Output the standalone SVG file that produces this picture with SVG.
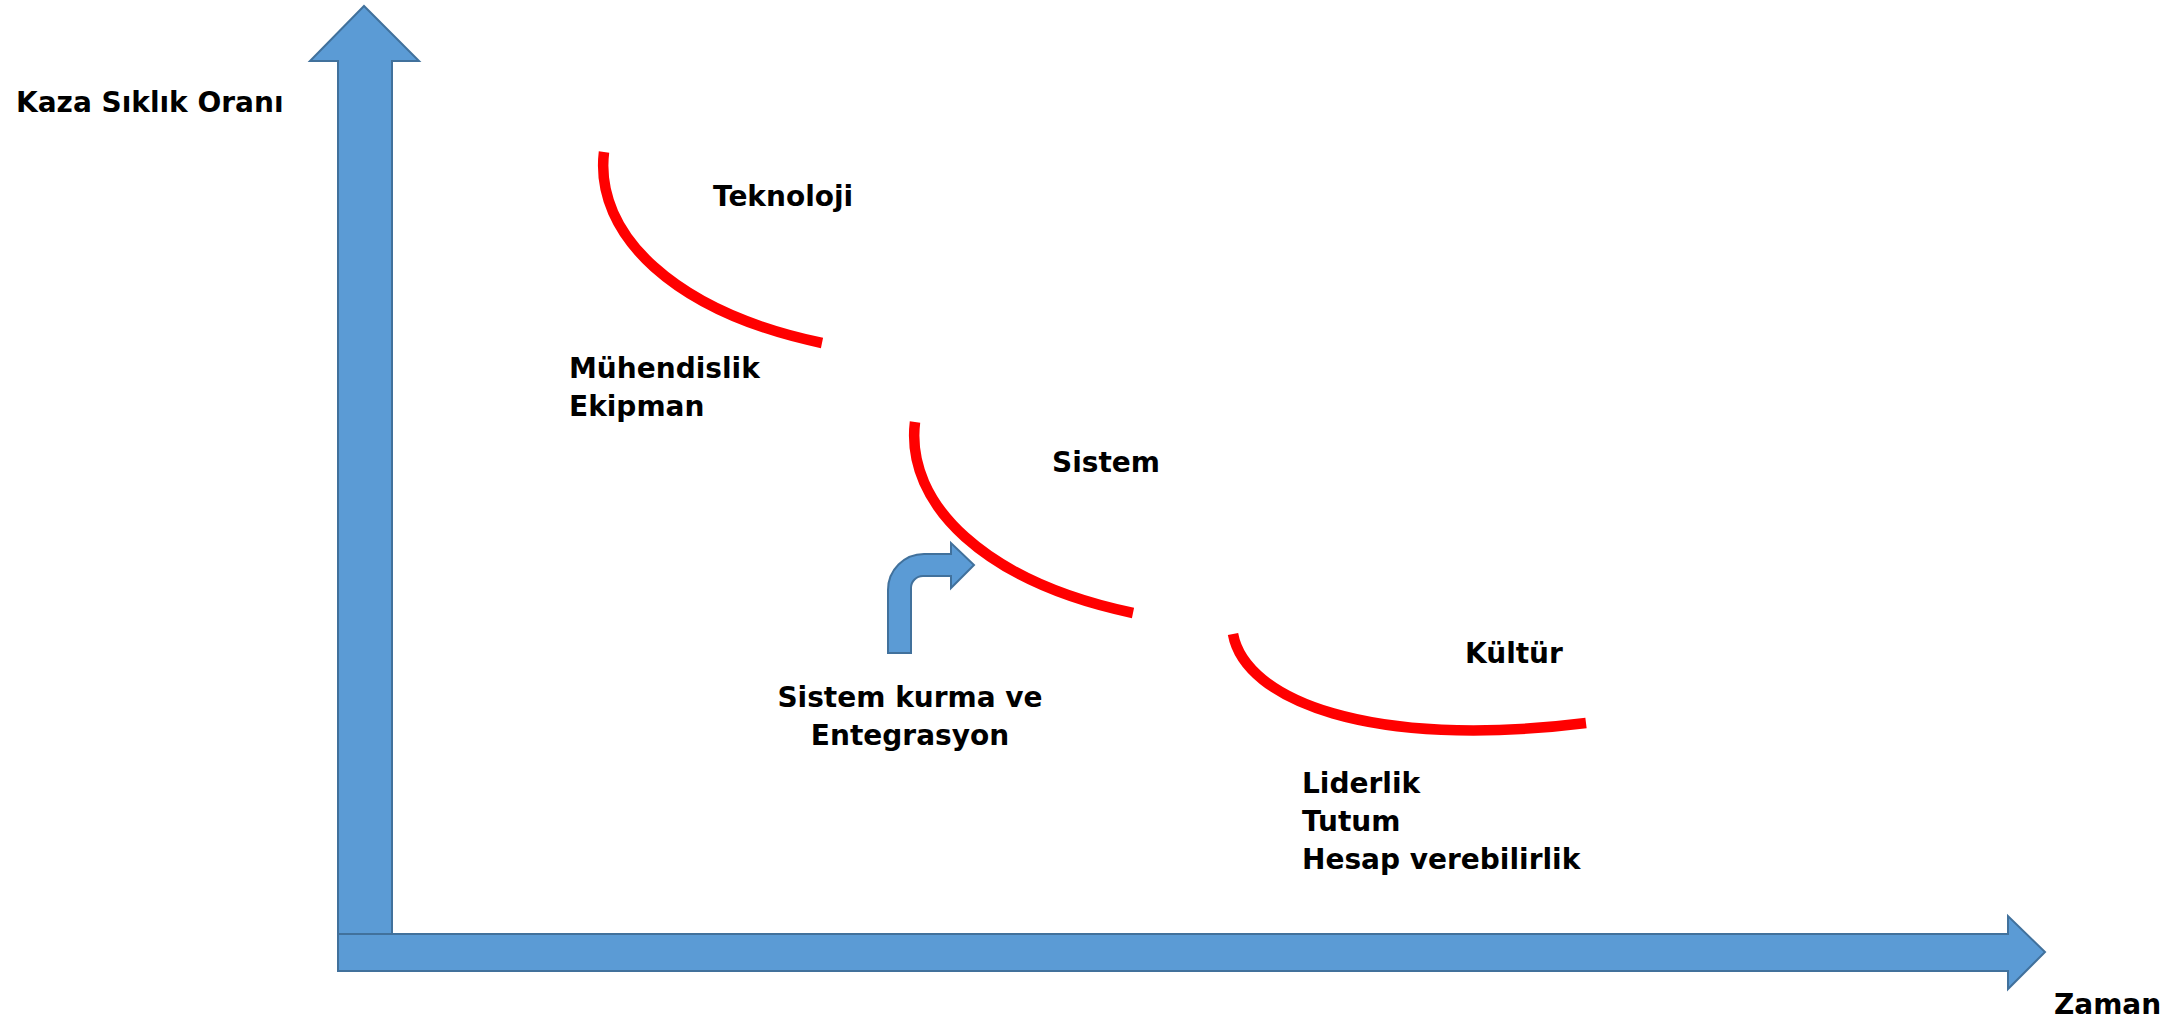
<svg xmlns="http://www.w3.org/2000/svg" width="2182" height="1018" viewBox="0 0 2182 1018">
<style>
.ax{fill:#5B9BD5;stroke:#41719C;stroke-width:2;stroke-linejoin:miter}
.curve{fill:none;stroke:#FF0000;stroke-width:10.5}
.t{font-family:"DejaVu Sans","Verdana",sans-serif;font-weight:bold;font-size:28px;fill:#000}
</style>
<rect width="2182" height="1018" fill="#FFFFFF"/>
<g id="connectors">
<path id="y-axis" class="ax" d="M338,935 L338,61 L310,61 L364,6 L419,61 L392,61 L392,935 Z"/>
<path id="x-axis" class="ax" d="M338,934 L2008,934 L2008,916 L2045,952 L2008,989 L2008,971 L338,971 Z"/>
<path id="curve-teknoloji" class="curve" d="M604,152 C594,235 675,312 822,343"/>
<path id="curve-sistem" class="curve" d="M915,422 C905,505 986,582 1133,613"/>
<path id="curve-kultur" class="curve" d="M1233,634 C1245,700 1370,750 1586,723"/>
<path id="bent-arrow" class="ax" d="M888,653 L888,590 A36,36 0 0 1 924,554 L951,554 L951,543 L974,565 L951,588 L951,576 L923,576 A12,12 0 0 0 911,588 L911,653 Z"/>
</g>
<g id="label-y"><text class="t" x="16" y="112">Kaza Sıklık Oranı</text></g>
<g id="label-x"><text class="t" x="2054" y="1014">Zaman</text></g>
<g id="node-teknoloji"><text class="t" x="713" y="206">Teknoloji</text></g>
<g id="node-muhendislik"><text class="t" x="569" y="378">Mühendislik</text><text class="t" x="569" y="416">Ekipman</text></g>
<g id="node-sistem"><text class="t" x="1052" y="472">Sistem</text></g>
<g id="node-entegrasyon"><text class="t" x="910" y="707" text-anchor="middle">Sistem kurma ve</text><text class="t" x="910" y="745" text-anchor="middle">Entegrasyon</text></g>
<g id="node-kultur"><text class="t" x="1465" y="663">Kültür</text></g>
<g id="node-liderlik"><text class="t" x="1302" y="793">Liderlik</text><text class="t" x="1302" y="831">Tutum</text><text class="t" x="1302" y="869">Hesap verebilirlik</text></g>
</svg>
